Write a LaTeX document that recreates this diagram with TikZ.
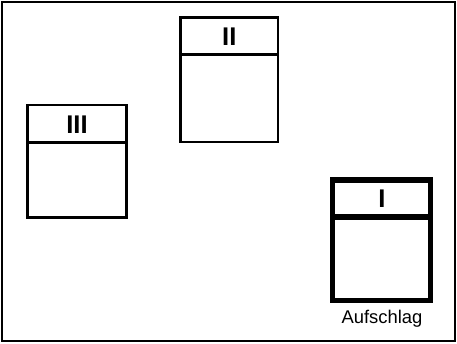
\documentclass[tikz,border=0pt]{standalone}
\usepackage{fontspec}
\setmainfont{Liberation Sans}
\begin{document}
\begin{tikzpicture}[x=1pt,y=-1pt,
  box/.style={draw=black, rectangle, inner sep=0pt, line width=2.7pt},
  thickbox/.style={box, line width=5.4pt},
  numlabel/.style={anchor=base, inner sep=0pt, font=\fontsize{25.6}{28}\selectfont\bfseries},
  caption/.style={anchor=base, inner sep=0pt, font=\fontsize{18.4}{20}\selectfont}]
\useasboundingbox (0,0) rectangle (457,344);
\node[draw=black, line width=2pt, rectangle, inner sep=0pt, minimum width=453pt, minimum height=339pt] (frame) at (228.5,171.5) {};
% Box II
\node[box, minimum width=97.7pt, minimum height=124.7pt] (b2) at (229.15,79.65) {};
\coordinate (h2) at (229.15,54.7);
\draw[line width=2.7pt] (b2.west |- h2) -- (b2.east |- h2);
\node[numlabel] (l2) at (229.3,45.7) {II};
% Box III
\node[box, minimum width=98.6pt, minimum height=112.3pt] (b3) at (77,161.15) {};
\coordinate (h3) at (77,142.3);
\draw[line width=2.7pt] (b3.west |- h3) -- (b3.east |- h3);
\node[numlabel] (l3) at (77,133.3) {III};
% Box I
\node[thickbox, minimum width=98pt, minimum height=120.3pt] (b1) at (381.7,240.15) {};
\coordinate (h1) at (381.7,216.7);
\draw[line width=5.8pt] (b1.west |- h1) -- (b1.east |- h1);
\node[numlabel] (l1) at (382,207.3) {I};
\node[caption] (cap) at (382,323.3) {Aufschlag};
\end{tikzpicture}
\end{document}
